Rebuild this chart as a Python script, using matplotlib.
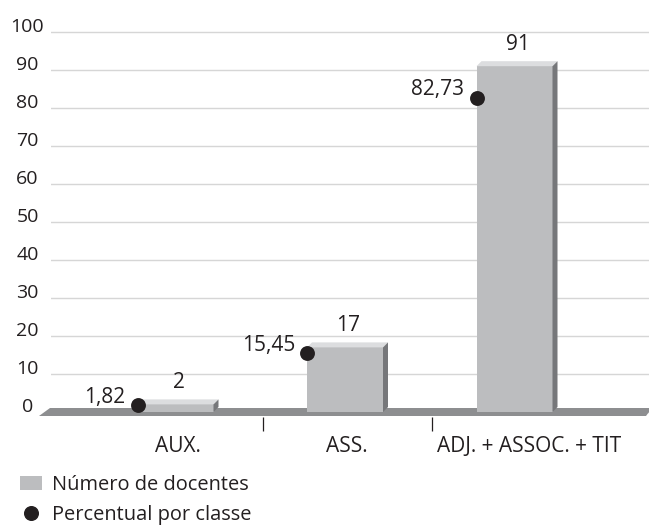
import matplotlib
matplotlib.use("Agg")
import matplotlib.pyplot as plt
from matplotlib.patches import Polygon, Patch
from matplotlib.lines import Line2D
from matplotlib.transforms import ScaledTranslation
import numpy as np

# ---- data ----
categories = ["AUX.", "ASS.", "ADJ. + ASSOC. + TIT"]
docentes = [2, 17, 91]
percentual = [1.82, 15.45, 82.73]
y_ticks = [0, 10, 20, 30, 40, 50, 60, 70, 80, 90, 100]
legend_labels = ["Número de docentes", "Percentual por classe"]

# ---- style ----
W, H, DPI = 649, 527, 100
plt.rcParams['font.family'] = ['Open Sans', 'DejaVu Sans']
TEXT = '#231f20'
FRONT = '#bcbdbf'
TOP = '#dcdddf'
SIDE = '#76777a'
FLOOR = '#8d8e90'
GRID = '#d6d6d6'

fig = plt.figure(figsize=(W / DPI, H / DPI), dpi=DPI)

# layout in pixels (origin top-left)
ax_left, ax_right = 51, 649
zero_px, unit_px = 412, 3.8
cat0_px, cat_step = 177.75, 169.5
ax_bottom_px = 417
ylim = (-(ax_bottom_px - zero_px) / unit_px, 101)
top_px = zero_px - ylim[1] * unit_px
xlim = ((ax_left - cat0_px) / cat_step, (ax_right - cat0_px) / cat_step)
ax = fig.add_axes([ax_left / W, 1 - ax_bottom_px / H,
                   (ax_right - ax_left) / W, (ax_bottom_px - top_px) / H])
ax.set_xlim(*xlim)
ax.set_ylim(*ylim)

def px_x(p):
    return p / cat_step

def px_y(p):
    return p / unit_px

# floor slab
fl_top, fl_bot = px_y(4), -px_y(4)
floor = Polygon([((39 - cat0_px) / cat_step, fl_bot),
                 ((646 - cat0_px) / cat_step, fl_bot),
                 ((652 - cat0_px) / cat_step, fl_top),
                 ((50 - cat0_px) / cat_step, fl_top)],
                closed=True, facecolor=FLOOR, edgecolor='none',
                zorder=2, clip_on=False)
ax.add_patch(floor)

# bars with a small extruded depth
x = np.arange(len(categories))
bw = px_x(76)
shift = -px_x(2.25)
dx, dy = px_x(5), px_y(5)
centers = x + shift
ax.bar(centers, docentes, width=bw, color=FRONT, linewidth=0, zorder=3)
for c, v in zip(centers, docentes):
    l, r = c - bw / 2, c + bw / 2
    ax.add_patch(Polygon([(l, v), (l + dx, v + dy), (r + dx, v + dy), (r, v)],
                         closed=True, facecolor=TOP, edgecolor='none', zorder=3))
    ax.add_patch(Polygon([(r, 0), (r, v), (r + dx, v + dy), (r + dx, dy)],
                         closed=True, facecolor=SIDE, edgecolor='none', zorder=3))

# percentage markers on the bars' left edges
lefts = centers - bw / 2
ax.scatter(lefts, percentual, s=115, color=TEXT, zorder=5, clip_on=False,
           linewidths=0)
for lx, p in zip(lefts, percentual):
    ax.annotate(f"{p:.2f}".replace('.', ','), (lx, p),
                xytext=(-12 * 0.72, 8 * 0.72), textcoords='offset points',
                ha='right', va='center', fontsize=15, color=TEXT, zorder=6)

# value labels above bars
for xc, v in zip(x, docentes):
    ax.annotate(f"{v}", (xc, v), xytext=(1 * 0.72, 22 * 0.72),
                textcoords='offset points', ha='center', va='center',
                fontsize=15, color=TEXT)

# axes decoration
for s in ax.spines.values():
    s.set_visible(False)
ax.set_yticks(y_ticks)
ax.set_yticklabels([str(t) for t in y_ticks], ha='center', va='baseline')
ax.tick_params(axis='y', length=0, pad=(ax_left - 27.5) * 0.72,
               labelsize=14, labelcolor=TEXT)
ax.yaxis.grid(True, color=GRID, linewidth=1.0)
ax.set_axisbelow(True)

ax.set_xticks(x)
ax.set_xticklabels(categories)
ax.set_xticks([0.5, 1.5], minor=True)
ax.tick_params(axis='x', which='major', length=0, pad=13.5,
               labelsize=15, labelcolor=TEXT)
ax.tick_params(axis='x', which='minor', length=10, width=0.9,
               color=TEXT, direction='out')
lab3 = ax.get_xticklabels()[2]
lab3.set_transform(lab3.get_transform() +
                   ScaledTranslation(12 / DPI, 0, fig.dpi_scale_trans))

# legend
handles = [Patch(facecolor=FRONT, edgecolor='none'),
           Line2D([], [], marker='o', linestyle='none', color=TEXT,
                  markersize=9.8)]
fig.legend(handles=handles, labels=legend_labels, loc='upper left',
           bbox_to_anchor=(20 / W, 1 - 475 / H), frameon=False,
           fontsize=14.4, labelcolor=TEXT, handlelength=1.1, handleheight=0.72,
           handletextpad=0.5, labelspacing=0.52, borderpad=0,
           borderaxespad=0)

fig.savefig("out.png", dpi=DPI)
